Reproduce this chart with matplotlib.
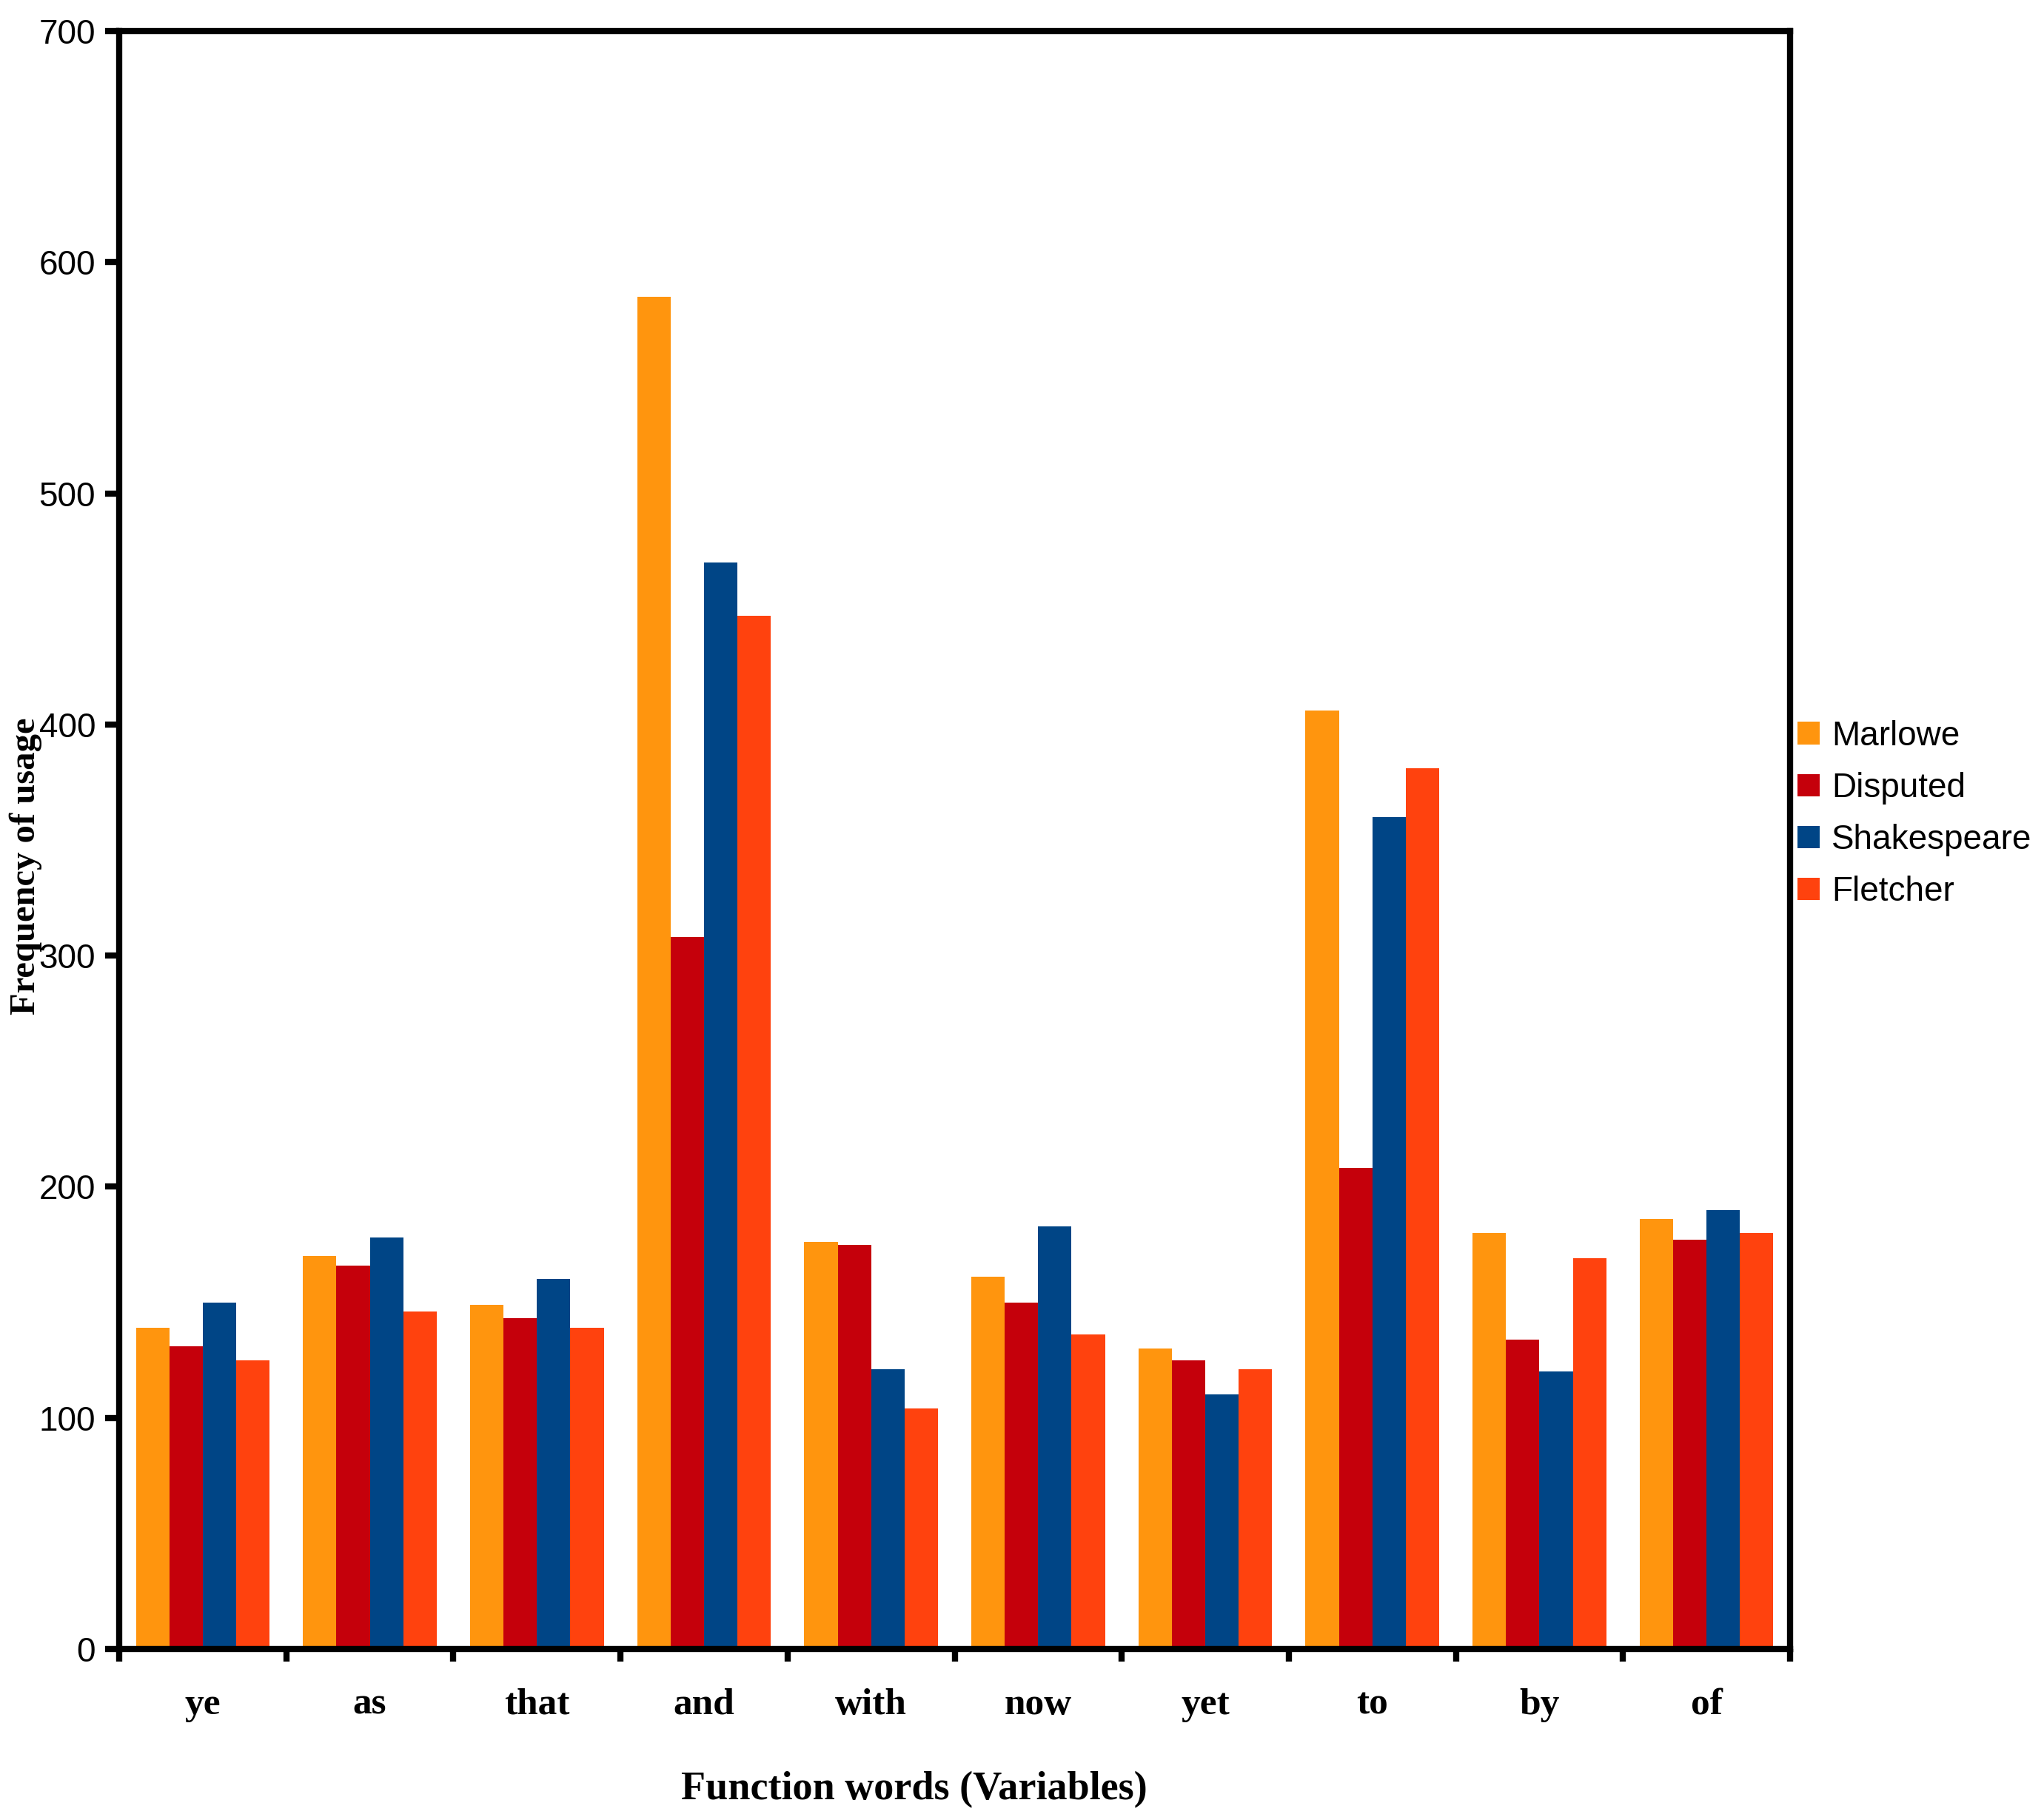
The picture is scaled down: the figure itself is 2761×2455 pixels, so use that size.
import numpy as np
import matplotlib
matplotlib.use('Agg')
import matplotlib.pyplot as plt


words = ['ye', 'as', 'that', 'and', 'with', 'now', 'yet', 'to', 'by', 'of']
authors = ['Marlowe', 'Disputed', 'Shakespeare', 'Fletcher']
marlowe = [139, 170, 149, 585, 176, 161, 130, 406, 180, 186]
disputed = [131, 166, 143, 308, 175, 150, 125, 208, 134, 177]
shakespeare = [150, 178, 160, 470, 121, 183, 110, 360, 120, 190]
fletcher = [125, 146, 139, 447, 104, 136, 121, 381, 169, 180]
colors = ['#FF950E', '#C5000B', '#004586', '#FF420E']

W, H = 2761, 2455


def main():
    fig = plt.figure(figsize=(W / 100, H / 100), dpi=100)
    ax = fig.add_axes([161 / W, 1 - 2228 / H, (2418 - 161) / W, (2228 - 42) / H])

    series = [marlowe, disputed, shakespeare, fletcher]
    x = np.arange(len(words))
    bw = 0.2
    for i, (name, vals) in enumerate(zip(authors, series)):
        ax.bar(x + 0.1 + bw * i, vals, width=bw, align='edge',
               color=colors[i], label=name, linewidth=0)

    ax.set_xlim(0, len(words))
    ax.set_ylim(0, 700)
    ax.set_yticks(np.arange(0, 701, 100))
    ax.set_xticks(np.arange(0, len(words) + 1))
    ax.set_xticklabels([])
    ax.set_xticks(x + 0.5, minor=True)
    ax.set_xticklabels(words, minor=True, family='Liberation Serif',
                       fontweight='bold', fontsize=37)
    ax.tick_params(axis='x', which='minor', length=0, pad=38)
    ax.tick_params(axis='x', which='major', direction='out', length=12, width=6)
    ax.tick_params(axis='y', direction='out', length=14, width=6, pad=9,
                   labelsize=33)
    for lab in ax.get_yticklabels():
        lab.set_family('Liberation Sans')
    for sp in ax.spines.values():
        sp.set_linewidth(6)

    fig.text(35 / W, 1 - 1170 / H, 'Frequency of usage', rotation=90,
             ha='center', va='center', family='Liberation Serif',
             fontweight='bold', fontsize=35)
    fig.text(1235 / W, 1 - 2418 / H, 'Function words (Variables)',
             ha='center', va='center', family='Liberation Serif',
             fontweight='bold', fontsize=39)

    fig.legend(loc='center left', bbox_to_anchor=(2428 / W, 1 - 1100 / H),
               frameon=False, prop={'family': 'Liberation Sans', 'size': 33},
               handlelength=0.65, handleheight=0.65, handletextpad=0.35,
               labelspacing=0.57, borderpad=0, borderaxespad=0)

    fig.savefig('out.png', dpi=100)


if __name__ == '__main__':
    main()
